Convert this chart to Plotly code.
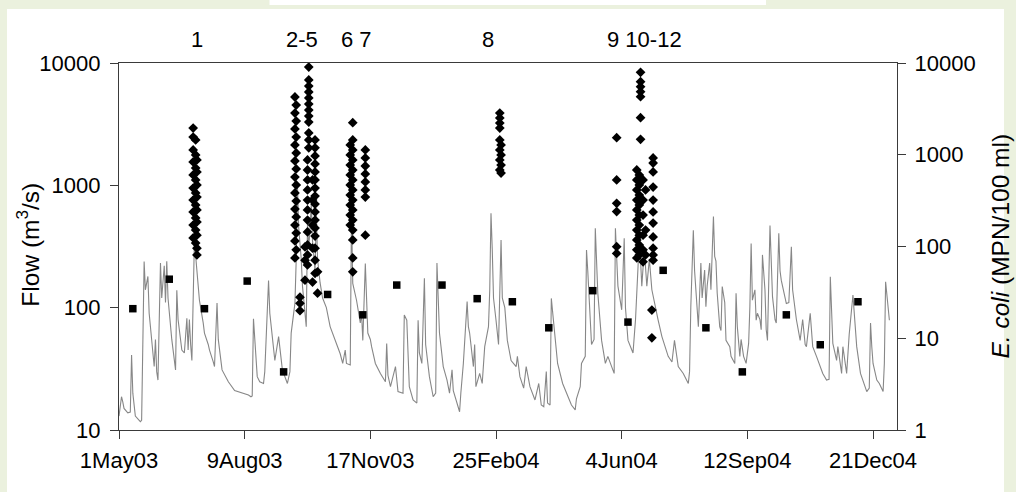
import pandas as pd
import plotly.graph_objects as go

BASE = pd.Timestamp("2003-05-01")

# ---- Flow (m3/s), day offset from 1 May 2003 ----
flow_day = [0, 2, 3, 4, 7, 9, 10, 11, 13, 17, 18, 19, 20, 21, 23, 24, 26, 28, 29, 30, 31, 33, 34, 36, 37, 38, 39,
            42, 45, 46, 47, 50, 52, 54, 55, 56, 57, 58, 60, 61, 63, 64, 67, 68, 71, 72, 75, 76, 78, 79, 82, 87,
            92, 98, 103, 105, 106, 107, 110, 112, 115, 116, 119, 120, 122, 124, 127, 128, 130, 134, 136, 137,
            140, 141, 142, 143, 145, 146, 148, 149, 150, 151, 153, 154, 156, 157, 158, 160, 162, 165, 168, 173,
            176, 178, 180, 181, 184, 185, 186, 189, 192, 193, 194, 196, 198, 200, 201, 204, 208, 212, 213, 214,
            216, 220, 222, 226, 227, 229, 230, 231, 234, 237, 238, 239, 241, 243, 244, 247, 250, 252, 253, 255,
            258, 261, 263, 265, 266, 269, 271, 272, 274, 277, 278, 279, 282, 283, 284, 287, 289, 291, 294, 295,
            296, 297, 298, 300, 302, 304, 305, 307, 309, 312, 316, 317, 319, 322, 324, 327, 331, 334, 336, 338,
            340, 341, 343, 344, 347, 349, 353, 357, 360, 363, 364, 367, 368, 371, 372, 373, 375, 376, 378, 379,
            381, 384, 387, 389, 392, 394, 395, 397, 400, 402, 403, 405, 409, 411, 413, 414, 416, 418, 420, 422,
            424, 426, 429, 432, 434, 437, 440, 442, 445, 449, 453, 454, 455, 457, 458, 461, 463, 464, 466, 467,
            468, 470, 471, 473, 474, 475, 476, 478, 479, 480, 482, 483, 486, 487, 490, 491, 492, 494, 495, 497,
            499, 501, 502, 503, 504, 506, 507, 508, 510, 511, 512, 514, 515, 516, 518, 519, 520, 522, 523, 525,
            526, 527, 528, 531, 533, 535, 536, 538, 539, 542, 544, 546, 547, 550, 552, 555, 558, 560, 563, 565,
            566, 568, 571, 572, 575, 576, 579, 581, 584, 586, 587, 590, 592, 595, 597, 598, 599, 600, 603, 605,
            608, 609, 610, 612, 613]
flow_val = [13, 18.7, 17, 15, 13.8, 14, 41, 20, 13, 11.7, 12, 60, 238, 140, 180, 90, 51, 33, 55, 30, 25.6, 232, 120,
            220, 110, 240, 120, 55, 31, 139, 80, 45, 42.6, 82, 45, 80, 50, 37, 350, 260, 160, 115, 75, 62, 50, 45,
            36, 33, 109, 55, 31, 24.8, 21, 20, 19.3, 18.7, 19, 81, 27.3, 24.8, 24, 30, 167, 90, 54, 37, 58, 45, 31,
            24, 30, 62, 109, 245, 1000, 450, 250, 150, 80, 70, 500, 300, 700, 350, 200, 600, 250, 160, 120, 100,
            70, 51, 42, 35, 45, 35, 34, 600, 158, 115, 75, 90, 54, 230, 62, 55, 48, 35, 29, 24.8, 51, 28, 22.6, 33,
            20.6, 20, 87, 79, 35, 22.6, 17.6, 16.6, 79, 42.6, 35, 174, 50, 27.3, 18.7, 20, 232, 62, 33, 25.6, 20,
            31, 21, 16.6, 14.1, 20, 35, 112, 70, 62, 33, 50, 22.6, 29, 24, 48, 70, 139, 590, 300, 120, 79, 50, 357,
            120, 100, 54, 37, 33, 40, 27.3, 22, 33, 22.6, 17.6, 24, 16, 15.5, 30, 16.6, 16, 119, 54, 35, 24, 18.7,
            16, 14.6, 18, 22.6, 35, 40, 296, 200, 79, 50, 55, 445, 131, 54, 35, 40, 33, 29, 445, 150, 96, 370, 100,
            54, 42.6, 80, 216, 400, 150, 300, 150, 250, 140, 109, 79, 58, 50, 40, 36, 54, 33, 29, 24, 30, 102, 430,
            200, 70, 232, 120, 203, 102, 150, 232, 140, 555, 262, 240, 131, 70, 65, 149, 110, 54, 48, 40, 35, 131,
            70, 40, 55, 40, 35, 51, 102, 335, 115, 140, 79, 90, 80, 66, 270, 140, 66, 54, 470, 200, 123, 80, 75, 405,
            200, 167, 150, 108, 110, 315, 140, 96, 80, 54, 80, 50, 48, 90, 48, 40, 33, 29, 25.6, 26, 179, 51, 37,
            48, 29, 48, 29, 60, 127, 70, 48, 29, 25, 20.6, 22, 75, 48, 35, 25.6, 24, 20.6, 35, 163, 108, 79]

# ---- E. coli event samples (MPN/100 ml) ----
event_day = ([59] * 10 + [61] * 9 + [62] * 9 +
             [140] * 11 + [141] * 10 + [144] * 3 +
             [151] * 12 + [150] * 11 + [156] * 16 + [154] * 5 + [158] * 2 + [148] * 3 +
             [186] * 14 + [184] * 9 + [196] * 8 +
             [303] * 8 + [304] * 4 +
             [396] * 6 +
             [415] * 7 + [412] * 10 + [414] * 9 + [417] * 6 + [419] * 3 + [425] * 11 + [424] * 2)
event_val = [1955, 1560, 1127, 834, 602, 434, 321, 238, 171, 124,
             1449, 994, 717, 531, 383, 283, 205, 151, 109,
             877, 649, 468, 346, 250, 185, 133, 96, 81,
             4260, 2850, 1910, 1280, 855, 572, 383, 256, 171, 115, 75,
             3480, 2330, 1560, 1045, 700, 468, 313, 210, 140, 92,
             28, 24, 20,
             9040, 6530, 5610, 4830, 4160, 3570, 3070, 2640, 2270, 1730, 1450, 1190,
             877, 682, 531, 413, 321, 250, 194, 144, 104, 81, 63,
             1450, 1190, 970, 793, 649, 531, 434, 355, 290, 238, 194, 159, 130, 96, 71, 51,
             531, 321, 171, 96, 41,
             53, 31,
             99, 71, 43,
             2235, 1450, 1127, 877, 682, 531, 413, 321, 250, 194, 151, 118, 75, 53,
             1280, 994, 773, 602, 468, 364, 283, 220, 171,
             1127, 922, 754, 617, 505, 413, 346, 133,
             2850, 2517, 2218, 1955, 1450, 1127, 877, 682,
             1280, 994, 773, 632,
             1535, 531, 296, 240, 99.5, 84,
             7920, 6250, 5520, 4870, 4290, 2535, 1473,
             682, 531, 413, 321, 250, 194, 151, 118, 92, 75,
             602, 468, 364, 283, 220, 171, 133, 104, 81,
             531, 321, 220, 133, 92, 68,
             413, 151, 81,
             922, 813, 649, 445, 321, 238, 180, 127, 96, 81, 71,
             20.3, 10.1]

# ---- E. coli routine samples ----
routine_day = [11, 40, 68, 102, 131, 166, 194, 221, 257, 285, 313, 342, 377, 405, 433, 467, 496, 531, 558, 588]
routine_val = [21, 44, 21, 42, 4.3, 30, 18, 38, 38, 27, 25, 13, 33, 15, 55, 13, 4.3, 18, 8.5, 25]

# ---- axes / labels ----
x_tick_dates = ["2003-05-01", "2003-08-09", "2003-11-17", "2004-02-25", "2004-06-04", "2004-09-12", "2004-12-21"]
x_tick_text = ["1May03", "9Aug03", "17Nov03", "25Feb04", "4Jun04", "12Sep04", "21Dec04"]
x_range = ["2003-05-01", "2005-01-09 01:30"]
flow_ticks = [10, 100, 1000, 10000]
ecoli_ticks = [1, 10, 100, 1000, 10000]
event_labels = ["1", "2-5", "6 7", "8", "9 10-12"]
event_label_day = [62, 145.6, 189.3, 293.5, 418]


def to_dates(days):
    return [BASE + pd.Timedelta(days=float(d)) for d in days]


FONT = "Liberation Sans, Arial, sans-serif"
AX = "#3a3a3a"
TICK_SIZE = 22
TITLE_SIZE = 24.5

fig = go.Figure()
fig.add_trace(go.Scatter(x=to_dates(flow_day), y=flow_val, mode="lines",
                         line=dict(color="#878787", width=1.1), yaxis="y", hoverinfo="skip"))
fig.add_trace(go.Scatter(x=to_dates(event_day), y=event_val, mode="markers",
                         marker=dict(symbol="diamond", size=7.5, color="black"), yaxis="y2"))
fig.add_trace(go.Scatter(x=to_dates(routine_day), y=routine_val, mode="markers",
                         marker=dict(symbol="square", size=7.5, color="black"), yaxis="y2"))

annotations = []
for lab, d in zip(event_labels, to_dates(event_label_day)):
    annotations.append(dict(x=d, xref="x", y=1.0627, yref="paper", text=lab, showarrow=False,
                            font=dict(size=TICK_SIZE, color="black", family=FONT),
                            xanchor="center", yanchor="middle"))
annotations.append(dict(x=-0.117, xref="paper", y=0.505, yref="paper", text="Flow (m<sup>3</sup>/s)",
                        textangle=-90, showarrow=False, font=dict(size=TITLE_SIZE, color="black", family=FONT),
                        xanchor="center", yanchor="middle"))
annotations.append(dict(x=1.1324, xref="paper", y=0.5, yref="paper", text="<i>E. coli</i> (MPN/100 ml)",
                        textangle=-90, showarrow=False, font=dict(size=TITLE_SIZE, color="black", family=FONT),
                        xanchor="center", yanchor="middle"))

shapes = [
    dict(type="rect", xref="paper", yref="paper", x0=-0.14396, x1=1.13753, y0=-0.17, y1=1.14714,
         fillcolor="white", line=dict(width=0), layer="below"),
    dict(type="rect", xref="paper", yref="paper", x0=0.19344, x1=0.83162, y0=1.15804, y1=1.18,
         fillcolor="white", line=dict(width=0), layer="below"),
]

axis_common = dict(showgrid=False, zeroline=False, showline=True, linecolor=AX, linewidth=1.3,
                   ticks="outside", ticklen=8, tickwidth=1.3, tickcolor=AX, automargin=False,
                   tickfont=dict(size=TICK_SIZE, family=FONT, color="black"))

fig.update_layout(
    template="none",
    width=1016, height=492,
    margin=dict(l=119, r=119, t=63, b=62, pad=0),
    paper_bgcolor="#EBF1DE", plot_bgcolor="white",
    showlegend=False,
    font=dict(family=FONT, size=TICK_SIZE, color="black"),
    annotations=annotations,
    shapes=shapes,
    xaxis=dict(type="date", range=x_range, tickmode="array", tickvals=x_tick_dates, ticktext=x_tick_text,
               mirror=True, ticklabelstandoff=2, **axis_common),
    yaxis=dict(type="log", range=[1, 4], tickmode="array", tickvals=flow_ticks,
               ticktext=[str(v) for v in flow_ticks], ticklabelstandoff=5, **axis_common),
    yaxis2=dict(type="log", range=[0, 4], overlaying="y", side="right", tickmode="array",
                tickvals=ecoli_ticks, ticktext=[str(v) for v in ecoli_ticks], ticklabelstandoff=4,
                **axis_common),
)

fig.write_html("out.html")
